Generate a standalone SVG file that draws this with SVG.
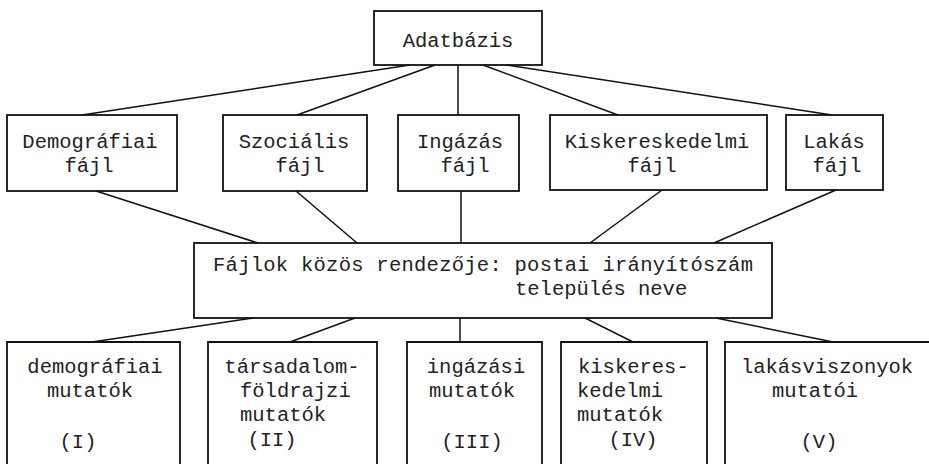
<svg xmlns="http://www.w3.org/2000/svg" width="929" height="464" viewBox="0 0 929 464">
  <style>
    .box { fill: none; stroke: #111; stroke-width: 1.8; }
    .link { fill: none; stroke: #111; stroke-width: 1.5; }
    text { font-family: "Liberation Mono", "DejaVu Sans Mono", monospace; font-size: 20.5px; fill: #222; }
    .c { text-anchor: middle; }
  </style>
  <rect width="929" height="464" fill="#fff"/>

  <!-- connectors -->
  <g id="connectors" class="link">
    <!-- database to files -->
    <path d="M410,65 L82,115"/>
    <path d="M435,65 L297,115"/>
    <path d="M458,65 L458,115"/>
    <path d="M483,65 L618,115"/>
    <path d="M506,65 L832,115"/>
    <!-- files to common key -->
    <path d="M96,191 L258,243"/>
    <path d="M296,191 L357,243"/>
    <path d="M461,191 L461,243"/>
    <path d="M662,190 L590,243"/>
    <path d="M836,190 L714,243"/>
    <!-- common key to indicator groups -->
    <path d="M253,318 L92,342"/>
    <path d="M355,318 L290,342"/>
    <path d="M460,318 L460,342"/>
    <path d="M585,318 L633,342"/>
    <path d="M716,318 L833,342"/>
  </g>

  <!-- top -->
  <g id="adatbazis">
    <rect class="box" x="374" y="11" width="168" height="54"/>
    <text class="c" x="458" y="47">Adatbázis</text>
  </g>

  <!-- file row -->
  <g id="demografiai-fajl">
    <rect class="box" x="7" y="115" width="170" height="76"/>
    <text class="c" x="90" y="148">Demográfiai</text>
    <text class="c" x="89" y="172">fájl</text>
  </g>
  <g id="szocialis-fajl">
    <rect class="box" x="223" y="115" width="144" height="76"/>
    <text class="c" x="294" y="148">Szociális</text>
    <text class="c" x="300" y="172">fájl</text>
  </g>
  <g id="ingazas-fajl">
    <rect class="box" x="398" y="115" width="121" height="76"/>
    <text class="c" x="460" y="148">Ingázás</text>
    <text class="c" x="465" y="172">fájl</text>
  </g>
  <g id="kiskereskedelmi-fajl">
    <rect class="box" x="550" y="115" width="217" height="75"/>
    <text class="c" x="657" y="148">Kiskereskedelmi</text>
    <text class="c" x="652" y="172">fájl</text>
  </g>
  <g id="lakas-fajl">
    <rect class="box" x="786" y="115" width="97" height="75"/>
    <text class="c" x="834" y="148">Lakás</text>
    <text class="c" x="837" y="172">fájl</text>
  </g>

  <!-- common key -->
  <g id="kozos-rendezo">
    <rect class="box" x="194" y="243" width="578" height="75"/>
    <text x="213" y="271" textLength="540" lengthAdjust="spacing">Fájlok közös rendezője: postai irányítószám</text>
    <text x="515" y="295">település neve</text>
  </g>

  <!-- indicator groups (open at the bottom edge) -->
  <g id="mutatok-1">
    <path class="box" d="M7,466 V342 H180 V466"/>
    <text class="c" x="95" y="373">demográfiai</text>
    <text class="c" x="90" y="397">mutatók</text>
    <text class="c" x="78" y="448">(I)</text>
  </g>
  <g id="mutatok-2">
    <path class="box" d="M208,466 V342 H377 V466"/>
    <text class="c" x="292" y="373">társadalom-</text>
    <text x="240" y="397">földrajzi</text>
    <text x="240" y="421">mutatók</text>
    <text class="c" x="272" y="446">(II)</text>
  </g>
  <g id="mutatok-3">
    <path class="box" d="M407,466 V342 H542 V466"/>
    <text class="c" x="476" y="373">ingázási</text>
    <text class="c" x="472" y="397">mutatók</text>
    <text class="c" x="472" y="448">(III)</text>
  </g>
  <g id="mutatok-4">
    <path class="box" d="M561,466 V342 H707 V466"/>
    <text x="578" y="373">kiskeres-</text>
    <text x="577" y="397">kedelmi</text>
    <text x="577" y="421">mutatók</text>
    <text class="c" x="633" y="446">(IV)</text>
  </g>
  <g id="mutatok-5">
    <path class="box" d="M725,466 V342 H931"/>
    <text class="c" x="827" y="373">lakásviszonyok</text>
    <text class="c" x="815" y="397">mutatói</text>
    <text class="c" x="819" y="448">(V)</text>
  </g>
</svg>
